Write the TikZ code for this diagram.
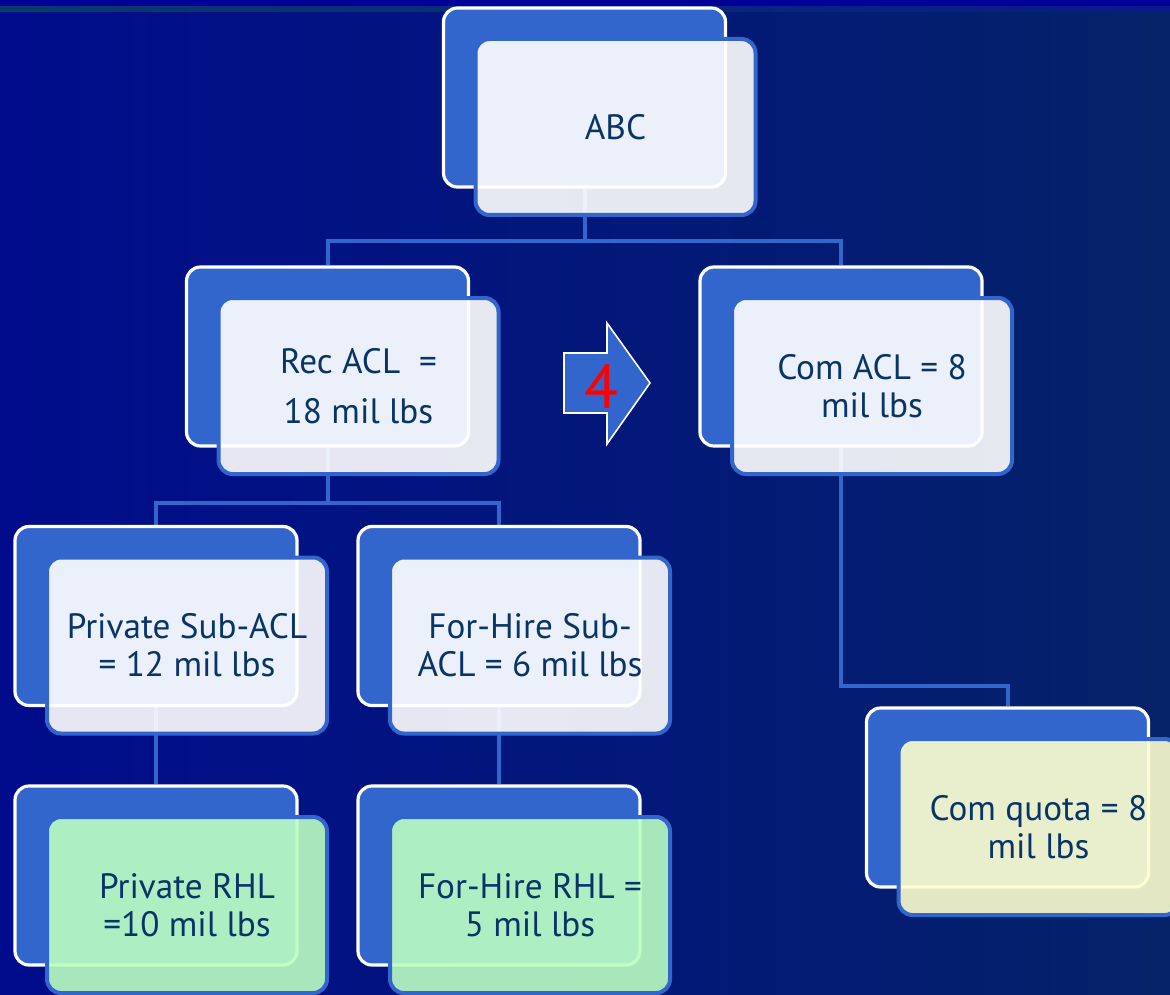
\documentclass[tikz,border=0pt]{standalone}
\usepackage{fontspec}
\setmainfont{PT Sans}

\definecolor{bgL}{RGB}{0,12,140}
\definecolor{bgR}{RGB}{5,34,104}
\definecolor{topband}{RGB}{0,0,153}
\definecolor{bandL}{RGB}{10,58,106}
\definecolor{bandR}{RGB}{6,26,140}
\definecolor{boxblue}{RGB}{51,102,204}
\definecolor{txt}{RGB}{8,52,102}
\definecolor{paleW}{RGB}{255,255,255}
\definecolor{paleG}{RGB}{187,254,194}
\definecolor{paleY}{RGB}{253,253,206}

\pgfdeclarelayer{back}
\pgfdeclarelayer{wires}
\pgfsetlayers{back,wires,main}

\tikzset{
  backbox/.style={draw=white, line width=1.6pt, fill=boxblue, rounded corners=7pt,
    minimum width=141pt, minimum height=89.5pt, inner sep=0pt},
  frontbox/.style={draw=boxblue, line width=2pt, fill=#1, fill opacity=0.9,
    text opacity=1, rounded corners=7pt, minimum width=140pt, minimum height=88pt,
    inner sep=0pt, font=\fontsize{17.6}{19}\selectfont, text=txt, align=center},
  conn/.style={draw=boxblue, line width=2pt},
  arrowshape/.style={fill=boxblue, draw=white, line width=0.8pt, line join=miter},
}

% name, x, y of the back card, fill of the front card, label
\newcommand\orgbox[5]{%
  \node[backbox] (#1b) at (#2,#3) {};
  \node[frontbox=#4, xshift=15.5pt, yshift=-14.75pt] (#1) at (#2,#3) {#5};
}

\begin{document}
\begin{tikzpicture}[x=0.5pt, y=-0.5pt]
  \useasboundingbox (0,0) rectangle (1170,994);
  \clip (0,0) rectangle (1170,994);

  % slide background
  \begin{pgfonlayer}{back}
    \shade[left color=bgL, right color=bgR] (0,0) rectangle (1170,994);
    \fill[topband] (0,0) rectangle (1170,7);
    \shade[left color=bandL, right color=bandR] (0,7) rectangle (1170,12);
  \end{pgfonlayer}

  % cards
  \orgbox{abc}{584.5}{97.5}{paleW}{ABC}
  \orgbox{rec}{327.5}{356.5}{paleW}{Rec ACL~ =\\[6pt]18 mil lbs}
  \orgbox{com}{841}{356.5}{paleW}{Com ACL = 8\\mil lbs}
  \orgbox{psub}{156}{616}{paleW}{Private Sub-ACL\\= 12 mil lbs}
  \orgbox{hsub}{499}{616}{paleW}{For-Hire Sub-\\ACL = 6 mil lbs}
  \orgbox{prhl}{156}{875.5}{paleG}{Private RHL\\=10 mil lbs}
  \orgbox{hrhl}{499}{875.5}{paleG}{For-Hire RHL =\\5 mil lbs}
  \orgbox{quota}{1007.5}{797.5}{paleY}{Com quota = 8\\mil lbs}

  % tree connectors
  \begin{pgfonlayer}{wires}
    \draw[conn] (abcb.south) -- ++(0,52) coordinate (j1);
    \draw[conn] (recb.north) |- (j1) -| (comb.north);
    \draw[conn] (recb.south) -- ++(0,55) coordinate (j2);
    \draw[conn] (psubb.north) |- (j2) -| (hsubb.north);
    \draw[conn] (psubb.south) -- (prhlb.north);
    \draw[conn] (hsubb.south) -- (hrhlb.north);
    \draw[conn] (comb.south) -- ++(0,238) -| (quotab.north);
  \end{pgfonlayer}

  % block arrow
  \draw[arrowshape] (564,353) -- (607,353) -- (607,323) -- (650,383)
    -- (607,444) -- (607,413) -- (564,413) -- cycle;
  \node[text=red, font=\fontsize{31}{31}\selectfont] (four) at (601,386) {4};
\end{tikzpicture}
\end{document}
